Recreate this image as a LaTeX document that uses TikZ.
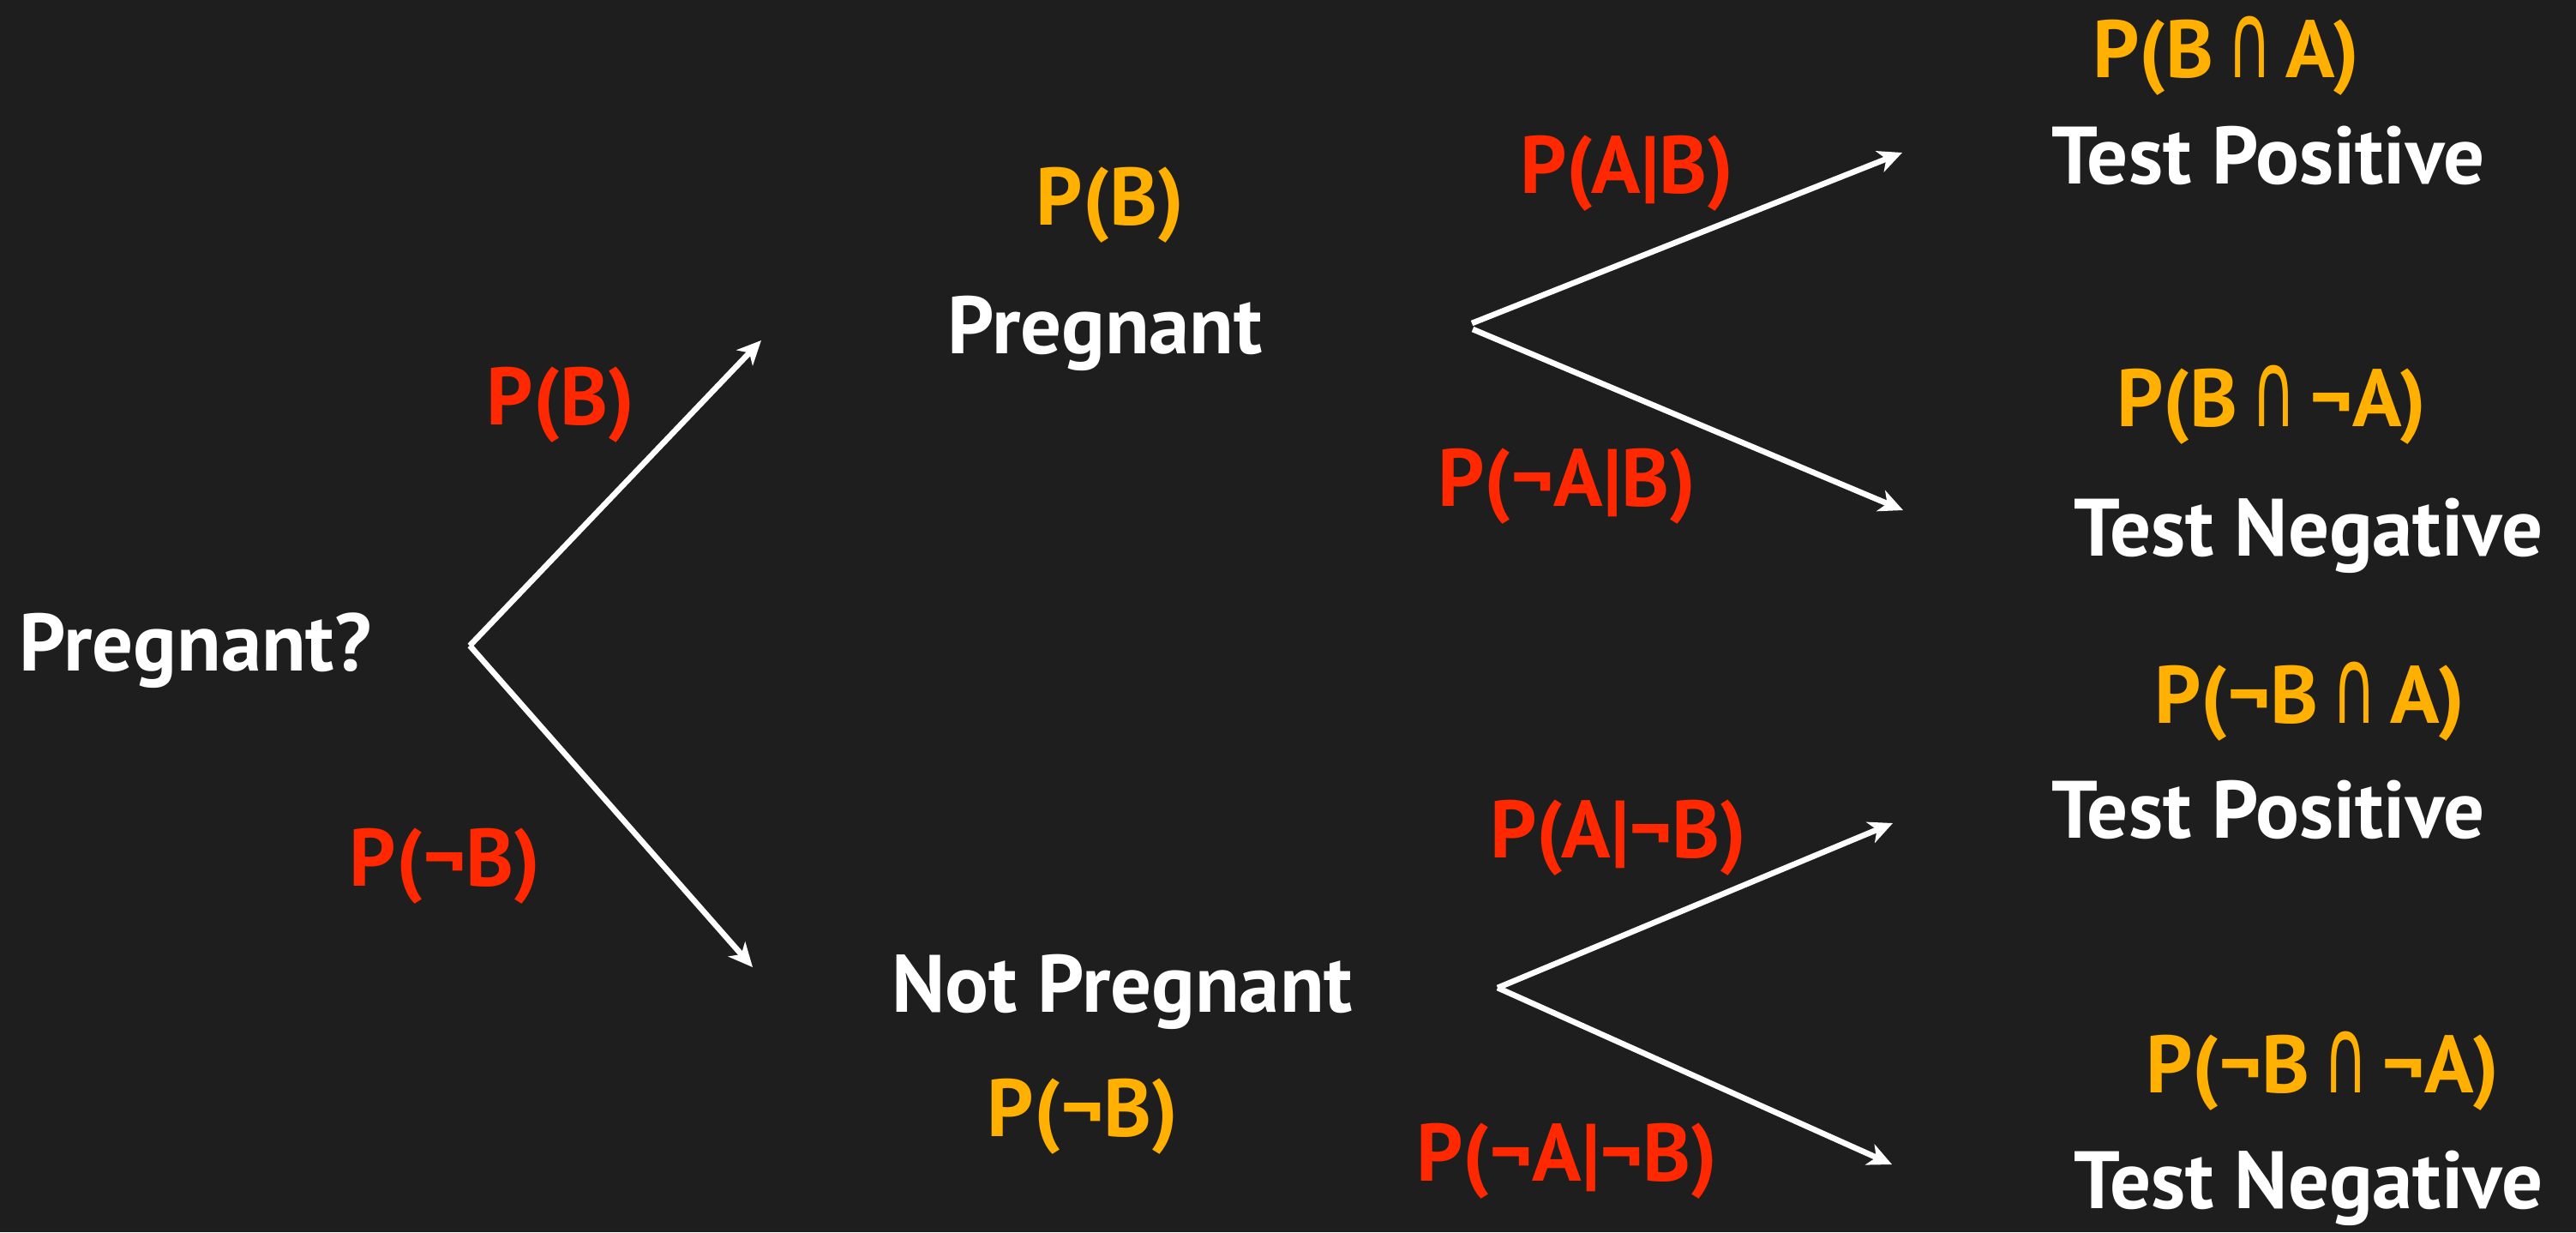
\documentclass[tikz,border=0pt]{standalone}
\usepackage{fontspec}
\usepackage{graphicx}
\setmainfont{PT Sans}
\newfontfamily\dvsans{DejaVu Sans}
\usetikzlibrary{arrows.meta}

\definecolor{board}{RGB}{30,30,30}
\definecolor{chalkred}{RGB}{255,40,0}
\definecolor{chalkorange}{RGB}{255,176,0}

% thin intersection sign
\newcommand{\intsct}{\,\scalebox{0.75}[1.3]{\dvsans\mdseries ∩}\,}

\begin{document}
\begin{tikzpicture}[
    every node/.style={font=\fontsize{27}{30}\selectfont\bfseries, inner sep=0pt, anchor=base},
    wtext/.style={text=white},
    rtext/.style={text=chalkred},
    otext/.style={text=chalkorange},
    branch/.style={draw=white, line width=1.9pt, -{Stealth[length=0.28cm, width=0.26cm, inset=0.08cm]}}
  ]
    % chalkboard
    \fill[board] (0,0) rectangle (30.05,-14.37);
    \useasboundingbox (0,0) rectangle (30.05,-14.37);

    % first split
    \node[wtext] (start) at (2.28,-7.82) {Pregnant?};
    \node[rtext] (pB) at (6.54,-4.95) {P(B)};
    \node[rtext] (pnB) at (5.19,-10.33) {P(¬B)};

    % second level
    \node[otext] (probB) at (12.95,-2.62) {P(B)};
    \node[wtext] (preg) at (12.89,-4.12) {Pregnant};
    \node[wtext] (notpreg) at (13.09,-11.80) {Not Pregnant};
    \node[otext] (probnB) at (12.63,-13.25) {P(¬B)};

    \node[rtext] (pAB) at (18.98,-2.25) {P(A|B)};
    \node[rtext] (pnAB) at (18.28,-5.90) {P(¬A|B)};
    \node[rtext] (pAnB) at (18.88,-10.00) {P(A|¬B)};
    \node[rtext] (pnAnB) at (18.28,-13.77) {P(¬A|¬B)};

    % outcomes
    \node[otext] (jBA) at (25.97,-0.90) {P(B\intsct A)};
    \node[wtext] (tp1) at (26.46,-2.14) {Test Positive};
    \node[otext] (jBnA) at (26.50,-4.97) {P(B\intsct¬A)};
    \node[wtext] (tn1) at (26.93,-6.48) {Test Negative};
    \node[otext] (jnBA) at (26.94,-8.43) {P(¬B\intsct A)};
    \node[wtext] (tp2) at (26.46,-9.77) {Test Positive};
    \node[otext] (jnBnA) at (27.09,-12.74) {P(¬B\intsct¬A)};
    \node[wtext] (tn2) at (26.93,-14.09) {Test Negative};

    % branch points and arrow ends
    \coordinate (fork0) at (5.48,-7.53);
    \coordinate (end0a) at (8.88,-3.97);
    \coordinate (end0b) at (8.78,-11.28);
    \coordinate (fork1) at (17.17,-3.77);
    \coordinate (end1a) at (22.19,-1.78);
    \coordinate (end1b) at (22.20,-5.95);
    \coordinate (fork2) at (17.47,-11.52);
    \coordinate (end2a) at (22.08,-9.60);
    \coordinate (end2b) at (22.07,-13.58);

    \draw[branch] (fork0) -- (end0a);
    \draw[branch] (fork0) -- (end0b);
    \draw[branch] (fork1) -- (end1a);
    \draw[branch] ([shift={(0.01,-0.07)}]fork1) -- (end1b);
    \draw[branch] (fork2) -- (end2a);
    \draw[branch] (fork2) -- (end2b);
\end{tikzpicture}
\end{document}
